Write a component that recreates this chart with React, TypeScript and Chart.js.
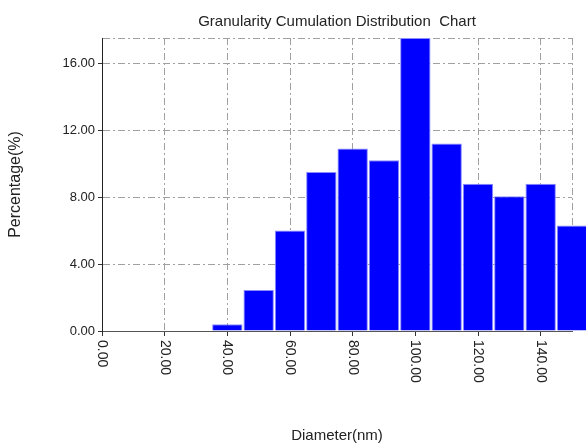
import React, { useEffect, useRef } from "react";
import { Chart, registerables } from "chart.js";

Chart.register(...registerables);

// ---- data ----
const diameters = [40, 50, 60, 70, 80, 90, 100, 110, 120, 130, 140, 150];
const percentages = [0.4, 2.45, 6.0, 9.5, 10.9, 10.2, 17.5, 11.2, 8.8, 8.05, 8.8, 6.3];
const xTickValues = [0, 20, 40, 60, 80, 100, 120, 140, 150];
const yTickValues = [0, 4, 8, 12, 16, 17.5];
const xUnlabeled = [150];
const yUnlabeled = [17.5];
const chartTitle = "Granularity Cumulation Distribution  Chart";
const xTitle = "Diameter(nm)";
const yTitle = "Percentage(%)";

const FONT = "'Liberation Sans', Arial, sans-serif";
const GRID = "#a0a0a0";
const DASH = [7, 3, 2, 3];

const rotatedXLabels = {
  id: "rotatedXLabels",
  afterDraw(chart: any) {
    const xs = chart.scales.x;
    const ctx = chart.ctx;
    ctx.save();
    ctx.font = `14px ${FONT}`;
    ctx.fillStyle = "#222";
    ctx.textAlign = "left";
    ctx.textBaseline = "middle";
    xs.ticks.forEach((t: any) => {
      if (xUnlabeled.includes(t.value)) return;
      const px = xs.getPixelForValue(t.value);
      ctx.save();
      ctx.translate(px, xs.top + 9);
      ctx.rotate(Math.PI / 2);
      ctx.fillText(Number(t.value).toFixed(2), 0, 0);
      ctx.restore();
    });
    ctx.restore();
  },
};

export default function App() {
  const ref = useRef<HTMLCanvasElement | null>(null);

  useEffect(() => {
    if (!ref.current) return;
    const chart = new Chart(ref.current, {
      type: "bar",
      data: {
        datasets: [
          {
            data: diameters.map((d, i) => ({ x: d, y: percentages[i] })),
            backgroundColor: "#0000ff",
            borderColor: "#8c8cff",
            borderWidth: 1,
            borderSkipped: "bottom",
            barPercentage: 0.97,
            categoryPercentage: 1,
            clip: false as any,
          },
        ],
      },
      plugins: [rotatedXLabels],
      options: {
        responsive: false,
        animation: false,
        devicePixelRatio: 1,
        layout: { padding: { left: 0, right: 14, top: 0, bottom: 0 } },
        plugins: {
          legend: { display: false },
          tooltip: { enabled: false },
          title: {
            display: true,
            text: chartTitle,
            fullSize: false,
            color: "#222",
            font: { family: FONT, size: 15, weight: "normal" },
            padding: { top: 13, bottom: 7 },
          },
        },
        scales: {
          x: {
            type: "linear",
            min: 0,
            max: 150,
            offset: false,
            afterBuildTicks: (scale: any) => {
              scale.ticks = xTickValues.map((v) => ({ value: v }));
            },
            afterFit: (scale: any) => {
              scale.height = 114;
            },
            ticks: { display: false },
            grid: {
              offset: false,
              color: GRID,
              lineWidth: 1,
              drawTicks: true,
              tickLength: 5,
              tickColor: (ctx: any) =>
                ctx.tick && xUnlabeled.includes(ctx.tick.value) ? "rgba(0,0,0,0)" : "#333",
            },
            border: { display: true, color: "#555", width: 1, dash: DASH },
            title: {
              display: true,
              text: xTitle,
              color: "#222",
              font: { family: FONT, size: 15 },
              padding: { top: 0, bottom: 0 },
            },
          },
          y: {
            type: "linear",
            min: 0,
            max: 17.5,
            afterBuildTicks: (scale: any) => {
              scale.ticks = yTickValues.map((v) => ({ value: v }));
            },
            afterFit: (scale: any) => {
              scale.width = 102;
            },
            ticks: {
              autoSkip: false,
              padding: 3,
              color: "#222",
              font: { family: FONT, size: 13 },
              callback: (v: any) => (yUnlabeled.includes(Number(v)) ? "" : Number(v).toFixed(2)),
            },
            grid: {
              color: GRID,
              lineWidth: 1,
              drawTicks: true,
              tickLength: 4,
              tickColor: (ctx: any) =>
                ctx.tick && yUnlabeled.includes(ctx.tick.value) ? "rgba(0,0,0,0)" : "#333",
            },
            border: { display: true, color: "#222", width: 1, dash: DASH },
            title: {
              display: true,
              text: yTitle,
              color: "#222",
              font: { family: FONT, size: 16 },
              padding: { top: 6, bottom: 0 },
            },
          },
        },
      } as any,
    });
    return () => chart.destroy();
  }, []);

  return (
    <div style={{ position: "absolute", left: 0, top: 0, width: 586, height: 445, background: "#fff" }}>
      <canvas ref={ref} width={586} height={445} style={{ display: "block" }} />
    </div>
  );
}
